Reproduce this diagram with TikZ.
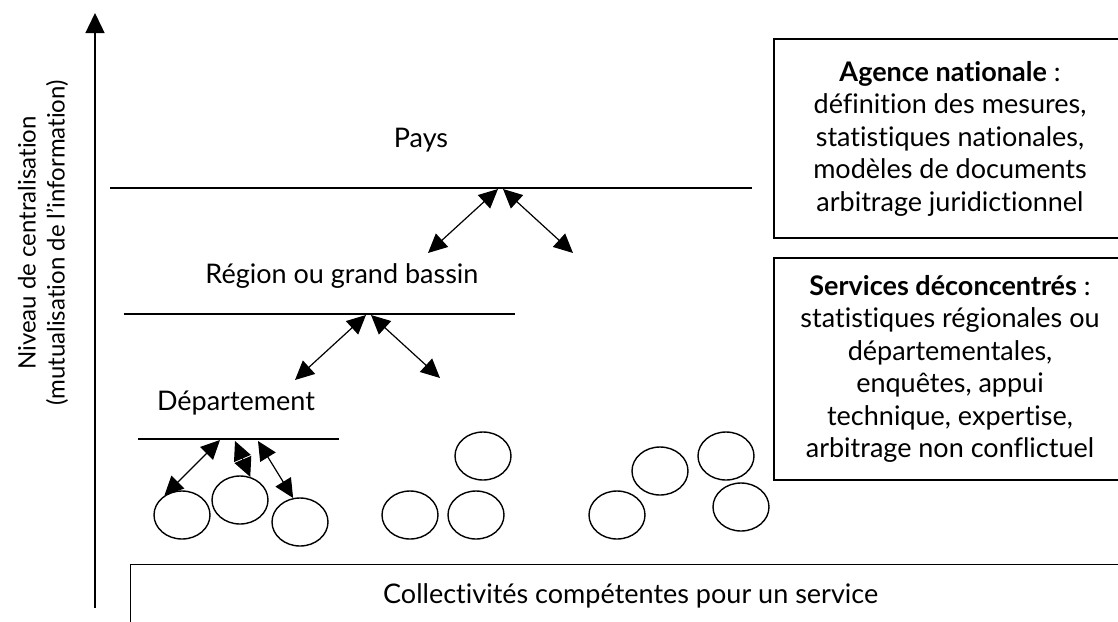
\documentclass[tikz,border=0pt]{standalone}
\usepackage{fontspec}
\setmainfont[RawFeature=-liga]{Lato}
\usetikzlibrary{arrows.meta,shapes.geometric}
\tikzstyle{niveau}=[line width=1.4pt]
\tikzstyle{cadre}=[draw,line width=1.4pt,minimum width=352pt]
\tikzstyle{commune}=[draw,ellipse,line width=1.4pt,minimum width=56pt,minimum height=48pt,inner sep=0pt]
\newcommand{\echelon}[6]{\node (#1) at (#2) {#6}; \coordinate (#1g) at (#3,#5); \coordinate (#1d) at (#4,#5); \draw[niveau] (#1g) -- (#1d);}
\newcommand{\lien}[2]{\draw[<->] (#1) -- (#2);}
\tikzset{
	>={Triangle[length=19pt,width=18pt]},
}

\begin{document}
\begin{tikzpicture}[x=1pt,y=-1pt,align=center,font=\fontsize{27}{32.5}\selectfont,line width=1.2pt]
    \useasboundingbox (0,0) rectangle (1118,621);
    \clip (0,0) rectangle (1118,621);

    % axe vertical
    \coordinate (bas) at (95,608);
    \coordinate (haut) at (95,13);
    \draw[-{Triangle[length=20pt,width=19pt]},line width=1.4pt] (bas) -- (haut);
    \node[rotate=90,font=\fontsize{24}{29}\selectfont] (axe) at (43,243) {Niveau de centralisation\\(mutualisation de l'information)};

    % niveaux
    \echelon{pays}{421,140}{110}{752}{188}{Pays}
    \echelon{region}{342,276}{124}{515}{314}{Région ou grand bassin}
    \echelon{dept}{236,403}{138}{339}{439}{Département}

    % collectivites
    \node[commune] (c1) at (182,515) {};
    \node[commune] (c2) at (240,500) {};
    \node[commune] (c3) at (300,522) {};
    \node[commune] (c4) at (483,456) {};
    \node[commune] (c5) at (410,515) {};
    \node[commune] (c6) at (476,515) {};
    \node[commune] (c7) at (617,515) {};
    \node[commune] (c8) at (660,471) {};
    \node[commune] (c9) at (726,456) {};
    \node[commune] (c10) at (741,507) {};

    % liens
    \coordinate (p1) at (498,189);
    \coordinate (p2) at (503,189);
    \coordinate (r1) at (428,253);
    \coordinate (r2) at (573,253);
    \lien{p1}{r1}
    \lien{p2}{r2}
    \coordinate (q1) at (366,315);
    \coordinate (q2) at (371,315);
    \coordinate (d1) at (295,380);
    \coordinate (d2) at (440,378);
    \lien{q1}{d1}
    \lien{q2}{d2}
    \coordinate (e1) at (220,440);
    \coordinate (e2) at (235,441);
    \coordinate (e3) at (258,441);
    \lien{e1}{c1.132}
    \lien{e2}{c2.66}
    \lien{e3}{c3.106}

    % cadres
    \node[cadre,minimum height=199pt] (agence) at (950,138.5) {\textbf{Agence nationale} :\\définition des mesures,\\statistiques nationales,\\modèles de documents\\arbitrage juridictionnel};
    \node[cadre,minimum height=222pt] (services) at (950,369) {\textbf{Services déconcentrés} :\\statistiques régionales ou\\départementales,\\enquêtes, appui\\technique, expertise,\\arbitrage non conflictuel};
    \node[draw,line width=1.4pt,anchor=north west,minimum width=1000pt,minimum height=62pt] (socle) at (130,564) {Collectivités compétentes pour un service};
\end{tikzpicture}
\end{document}
